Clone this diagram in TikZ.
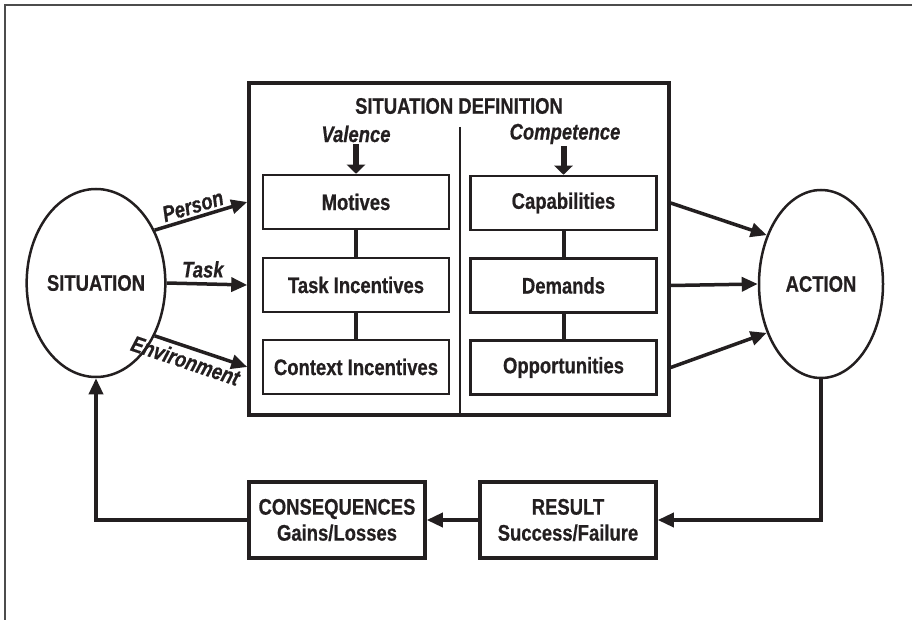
\documentclass[tikz,border=0pt]{standalone}
\usepackage{fontspec}
\newfontfamily\hvb{Liberation Sans Bold}[FakeStretch=0.82,FakeBold=0.6]
\newfontfamily\hvbi{Liberation Sans Bold Italic}[FakeStretch=0.82,FakeBold=0.6]
\usetikzlibrary{arrows.meta,shapes.geometric,calc}
\definecolor{ink}{HTML}{231F20}
\begin{document}
\begin{tikzpicture}[x=1pt,y=-1pt,
  every node/.style={text=ink, font=\fontsize{22.5}{26}\hvb},
  lbl/.style={font=\fontsize{22.5}{26}\hvbi, inner sep=1.5pt},
  inbox/.style={draw=ink, line width=2.5pt, minimum width=186pt, minimum height=54pt, inner sep=0pt},
  outbox/.style={draw=ink, line width=3.5pt, minimum width=176pt, minimum height=76pt, inner sep=0pt, align=center},
  oval/.style={ellipse, draw=ink, line width=2.5pt, minimum width=124pt, minimum height=188pt, inner sep=0pt},
  flow/.style={draw=ink, line width=3.5pt, -{Triangle[length=16pt,width=14pt]}},
  fat/.style={draw=ink, line width=6pt, -{Triangle[length=9pt,width=18pt]}},
  link/.style={draw=ink, line width=4pt}
]
\useasboundingbox (0,0) rectangle (912,620);

% page frame
\coordinate (fbl) at (5,620);
\coordinate (ftl) at (5,5);
\coordinate (ftr) at (912,5);
\draw[black!70, line width=1.8pt] (fbl) -- (ftl) -- (ftr);

% situation definition panel
\node[draw=ink, line width=3.5pt, minimum width=420pt, minimum height=332pt, inner sep=0pt] (def) at (459,249) {};
\node (title) at (459,106) {SITUATION DEFINITION};
\coordinate (divtop) at (460,127);
\draw[ink, line width=1.5pt] (divtop) -- (divtop |- def.south);

\node[lbl] (val) at (356,134) {Valence};
\node[lbl] (comp) at (565,134) {Competence};

% valence column
\node[inbox] (mot) at (356,202) {Motives};
\node[inbox] (tin) at (356,285) {Task Incentives};
\node[inbox] (cin) at (356,367) {Context Incentives};
% competence column
\node[inbox] (cap) at (563.5,203) {Capabilities};
\node[inbox] (dem) at (563.5,285.5) {Demands};
\node[inbox] (opp) at (563.5,367.5) {Opportunities};

\draw[fat] (val.south) -- (mot.north);
\draw[fat] (comp.south -| cap.north) -- (cap.north);
\draw[link] (mot) -- (tin);
\draw[link] (tin) -- (cin);
\draw[link] (cap) -- (dem);
\draw[link] (dem) -- (opp);

% situation and action
\node[oval] (sit) at (96,283) {SITUATION};
\node[oval] (act) at (821,284) {ACTION};

\draw[flow] (sit.42) -- node[lbl, sloped, above=1pt, pos=0.45] {Person} (def.west |- mot);
\draw[flow] (sit.east) -- node[lbl, above=3pt, pos=0.45] {Task} (def.west |- tin);
\draw[flow] (sit.-42) -- node[lbl, sloped, below=2pt, pos=0.38] {Environment} (def.west |- cin);

\draw[flow] (def.east |- cap) -- (act.138);
\draw[flow] (def.east |- dem) -- (act.west);
\draw[flow] (def.east |- opp) -- (act.-138);

% feedback loop
\node[outbox] (res) at (568,520) {RESULT\\Success/Failure};
\node[outbox] (con) at (337,520) {CONSEQUENCES\\Gains/Losses};
\draw[flow] (act.south) |- (res.east);
\draw[flow] (res.west) -- (con.east);
\draw[flow] (con.west) -| (sit.south);
\end{tikzpicture}
\end{document}
